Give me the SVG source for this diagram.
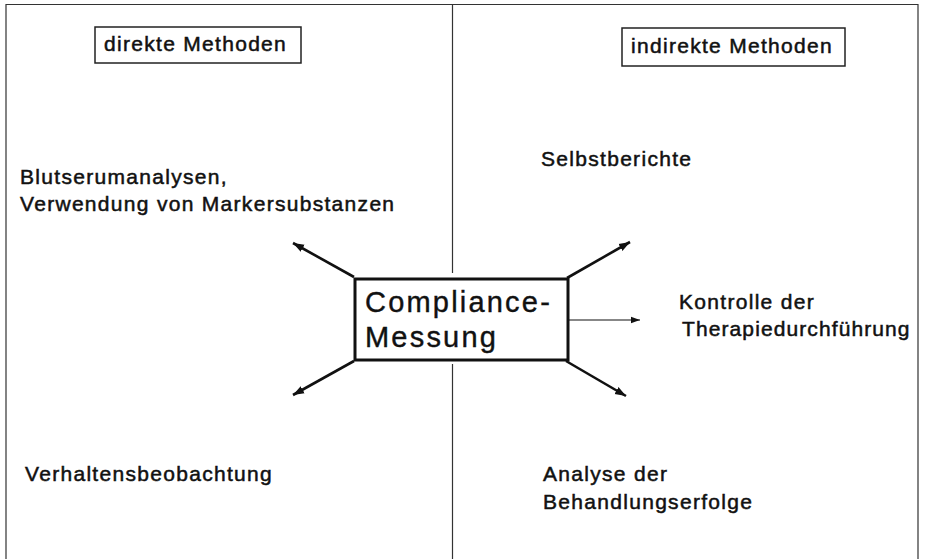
<svg xmlns="http://www.w3.org/2000/svg" width="925" height="559" viewBox="0 0 925 559">
<defs>
<style>
.t{font-family:"Liberation Sans",Arial,Helvetica,sans-serif;font-size:21px;letter-spacing:1.3px;fill:#111;stroke:#111;stroke-width:0.5px}
.big{font-size:29px;letter-spacing:2.2px;stroke-width:0.4px}
.frame{stroke:#333;stroke-width:1.2;fill:none}
.box{fill:#fff;stroke:#222;stroke-width:1.5}
.cbox{fill:#fff;stroke:#111;stroke-width:3}
.arr{stroke:#111;stroke-width:2.6;fill:none;marker-end:url(#ah)}
.arr2{stroke:#111;stroke-width:1.2;fill:none;marker-end:url(#ah2)}
</style>
<marker id="ah" markerUnits="userSpaceOnUse" markerWidth="12" markerHeight="10" refX="11" refY="5" orient="auto">
<path d="M0,1 L11,5 L0,9 Z" fill="#111"/>
</marker>
<marker id="ah2" markerUnits="userSpaceOnUse" markerWidth="10" markerHeight="8" refX="9" refY="4" orient="auto">
<path d="M0,0.8 L9,4 L0,7.2 Z" fill="#111"/>
</marker>
</defs>
<rect width="925" height="559" fill="#fff"/>
<g id="frame">
<path class="frame" d="M6,559 V4.5 H918 V559"/>
<path class="frame" d="M452.5,4.5 V273 M452.5,364 V559"/>
</g>
<g id="connectors">
<line class="arr" x1="354" y1="277" x2="293" y2="243"/>
<line class="arr" x1="567" y1="278" x2="630" y2="242"/>
<line class="arr2" x1="569" y1="320" x2="640" y2="320"/>
<line class="arr" x1="354" y1="361" x2="293" y2="395"/>
<line class="arr" x1="566" y1="361" x2="626" y2="396"/>
</g>
<g id="direkte">
<rect class="box" x="95" y="27" width="206" height="36"/>
<text class="t" x="104" y="51">direkte Methoden</text>
</g>
<g id="indirekte">
<rect class="box" x="622" y="28" width="223" height="38"/>
<text class="t" x="631" y="53">indirekte Methoden</text>
</g>
<g id="compliance">
<rect class="cbox" x="355" y="279" width="213" height="81"/>
<text class="t big" x="365" y="312">Compliance-</text>
<text class="t big" x="365" y="347">Messung</text>
</g>
<g id="blutserum">
<text class="t" x="20" y="184">Blutserumanalysen,</text>
<text class="t" x="20" y="211">Verwendung von Markersubstanzen</text>
</g>
<g id="selbstberichte">
<text class="t" x="541" y="166">Selbstberichte</text>
</g>
<g id="kontrolle">
<text class="t" x="679" y="309">Kontrolle der</text>
<text class="t" x="682" y="336" style="letter-spacing:1.1px">Therapiedurchführung</text>
</g>
<g id="verhalten">
<text class="t" x="25" y="481">Verhaltensbeobachtung</text>
</g>
<g id="analyse">
<text class="t" x="543" y="481">Analyse der</text>
<text class="t" x="543" y="509">Behandlungserfolge</text>
</g>
</svg>
